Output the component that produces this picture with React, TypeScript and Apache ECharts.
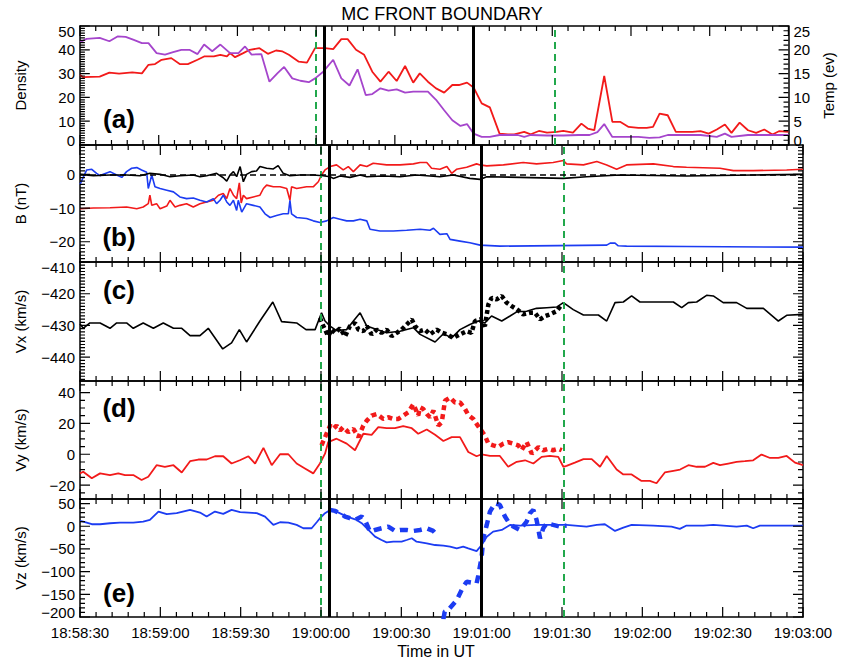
import React, { useEffect, useRef } from "react";
import * as echarts from "echarts";

// ---- time axis: seconds after 18:58:30 UT ----
const START_SEC = 18 * 3600 + 58 * 60 + 30;
const X_MIN = 0;
const X_MAX = 270;

// ---- event boundaries (seconds after 18:58:30) ----
const greenBoundaries = [89.8, 180.8];
const blackBoundaries = [93.0, 150.0];

// ---- panel (a): density (left) and temperature (right) ----
const densityRed = [
  [0, 29.4], [1.2, 28.5], [7.5, 28.7], [11.2, 30.4], [14.9, 30.0], [19.9, 30.5], [23.6, 30.1], [26.1, 33.7],
  [28.6, 34.0], [31.1, 35.8], [34.8, 36.5], [38.0, 34.0], [41.1, 34.0], [44.8, 35.8], [47.3, 37.2], [51.0, 37.2],
  [53.5, 37.9], [56.0, 37.2], [57.2, 38.6], [59.1, 36.9], [62.2, 38.6], [64.7, 40.0], [68.4, 40.7], [71.6, 38.3],
  [74.7, 39.7], [77.2, 39.3], [79.6, 37.9], [83.4, 35.0], [86.5, 34.6], [89.6, 40.7], [93.4, 40.7], [96.5, 40.3],
  [99.6, 44.5], [102.0, 44.5], [105.2, 40.0], [108.3, 37.9], [111.4, 30.8], [114.5, 26.6], [117.6, 30.8], [120.7, 26.9],
  [123.9, 33.2], [127.0, 26.2], [129.5, 30.1], [132.6, 26.6], [135.7, 23.8], [138.8, 22.0], [141.9, 25.2], [144.4, 25.2],
  [147.5, 26.2], [150.0, 24.2], [153.1, 17.5], [156.2, 15.8], [159.9, 4.8], [163.1, 4.5], [165.5, 4.5], [169.3, 5.5],
  [171.8, 4.5], [174.9, 5.9], [178.0, 5.2], [181.7, 5.5], [184.2, 5.9], [187.9, 5.2], [191.1, 9.0], [193.5, 6.9],
  [196.0, 6.2], [199.8, 29.0], [202.9, 9.7], [206.0, 9.7], [209.1, 7.6], [212.8, 7.2], [216.0, 7.2], [218.4, 7.6],
  [220.9, 13.2], [224.0, 12.5], [227.1, 5.5], [230.3, 5.5], [233.4, 5.5], [236.5, 5.8], [239.6, 4.8], [242.7, 6.5],
  [245.8, 8.6], [248.3, 5.1], [251.4, 9.4], [254.6, 6.2], [257.7, 5.1], [260.8, 6.5], [263.9, 4.4], [266.4, 5.8],
  [270.0, 5.5],
];
const tempPurple = [
  [0, 21.6], [2.5, 22.3], [7.5, 22.5], [11.2, 21.8], [14.3, 22.8], [17.4, 22.7], [20.5, 22.1], [23.6, 21.4],
  [26.1, 21.4], [29.2, 19.3], [32.4, 19.0], [35.5, 19.5], [38.6, 20.0], [41.7, 20.0], [44.8, 19.1], [47.3, 21.1],
  [50.4, 19.7], [53.5, 21.1], [57.2, 19.3], [60.4, 19.3], [62.9, 20.7], [65.4, 19.0], [69.1, 19.1], [72.2, 13.3],
  [75.3, 15.1], [77.8, 16.4], [80.9, 14.0], [84.0, 13.5], [87.2, 13.2], [89.6, 14.0], [92.7, 15.4], [96.5, 17.9],
  [99.6, 14.0], [102.7, 12.5], [105.8, 15.9], [108.9, 10.5], [111.4, 10.7], [114.5, 11.9], [117.6, 11.4], [120.7, 11.7],
  [123.9, 11.0], [127.0, 11.2], [132.6, 11.2], [135.7, 9.5], [138.8, 7.3], [141.9, 5.2], [145.0, 4.0], [147.5, 4.4],
  [150.0, 2.4], [153.1, 1.7], [156.2, 1.7], [159.9, 2.1], [163.1, 2.1], [166.8, 2.1], [169.3, 1.7], [171.8, 2.1],
  [178.0, 2.0], [184.2, 2.0], [190.0, 2.1], [194.2, 2.1], [197.2, 2.7], [199.8, 4.4], [202.9, 1.7], [206.0, 1.7],
  [212.8, 1.7], [217.0, 1.5], [220.9, 1.6], [224.0, 2.1], [230.3, 2.1], [236.5, 2.1], [242.7, 1.7], [245.8, 2.4],
  [248.3, 1.7], [254.6, 2.1], [270.0, 2.1],
];

// ---- panel (b): magnetic field components (nT) ----
const bRed = [
  [0, -10.2], [5.0, -10.0], [11.2, -9.9], [17.4, -9.7], [21.2, -10.2], [23.6, -9.7], [25.5, -8.7], [26.1, -6.2],
  [26.8, -9.2], [28.6, -8.7], [29.9, -10.2], [32.4, -9.4], [33.6, -7.7], [35.5, -9.7], [37.3, -9.2], [39.8, -8.7],
  [42.3, -9.7], [44.8, -8.7], [47.3, -8.2], [49.8, -7.7], [51.7, -6.2], [53.5, -5.7], [54.8, -7.2], [56.0, -4.2],
  [57.3, -6.2], [58.5, -7.2], [59.5, -2.5], [60.2, -8.5], [61.0, -6.2], [62.2, -7.2], [64.7, -6.7], [67.2, -6.2],
  [68.5, -4.2], [69.7, -3.2], [72.2, -3.7], [74.7, -3.7], [77.2, -4.2], [78.4, -7.7], [79.0, -3.7], [80.9, -4.2],
  [84.6, -3.7], [87.1, -3.7], [89.0, -2.2], [90.2, -0.2], [91.5, 1.3], [93.4, 2.3], [95.8, 2.8], [98.3, 1.3],
  [100.2, 2.3], [102.1, 0.8], [104.6, 2.8], [107.1, 2.3], [109.5, 3.3], [114.5, 2.8], [119.5, 2.8], [124.5, 3.1],
  [127.0, 3.5], [129.5, 3.5], [131.3, 1.8], [134.4, 1.5], [137.0, 2.3], [138.8, 0.3], [140.6, 1.5], [144.4, 2.1],
  [148.1, 3.1], [149.4, 2.8], [151.9, 2.5], [158.1, 2.8], [165.5, 3.5], [170.5, 3.1], [176.7, 3.5], [180.5, 4.1],
  [181.7, 3.1], [188.0, 2.8], [193.0, 3.8], [196.7, 2.8], [200.4, 1.5], [204.1, 2.8], [214.1, 3.1], [221.6, 2.3],
  [226.5, 2.1], [239.0, 1.8], [244.0, 1.1], [251.4, 1.1], [263.9, 1.3], [270.0, 1.5],
];
const bBlue = [
  [0, -3.0], [2.5, 1.3], [4.4, 1.5], [6.2, 0.3], [7.5, -0.4], [8.7, 0.0], [11.2, 0.8], [13.7, -0.2],
  [15.6, -0.9], [17.4, 0.8], [19.3, 1.8], [21.2, 2.0], [23.0, 1.3], [24.9, 0.6], [25.5, -4.2], [26.8, -0.2],
  [28.0, -3.7], [29.9, -4.2], [32.4, -4.7], [34.9, -5.2], [37.3, -6.7], [39.8, -7.2], [42.3, -7.0], [44.8, -7.7],
  [47.3, -8.2], [49.8, -7.2], [51.0, -8.7], [52.3, -7.7], [53.5, -6.2], [54.8, -8.2], [56.0, -9.2], [57.3, -7.7],
  [58.5, -10.7], [59.1, -7.7], [60.4, -11.2], [62.2, -8.7], [64.7, -9.2], [67.2, -9.7], [69.1, -11.7], [71.0, -12.8],
  [73.4, -12.2], [75.9, -11.7], [77.8, -11.7], [78.4, -7.7], [79.0, -11.7], [80.9, -12.8], [84.6, -13.1], [87.1, -13.8],
  [89.6, -14.3], [92.1, -13.8], [94.6, -12.8], [97.1, -13.3], [99.6, -13.8], [102.1, -13.8], [104.6, -13.3], [107.1, -13.8],
  [108.3, -16.3], [112.0, -16.8], [117.0, -16.8], [122.0, -16.6], [127.0, -16.3], [130.7, -16.6], [132.0, -16.0], [134.4, -17.8],
  [137.0, -17.6], [138.2, -19.3], [141.9, -19.8], [145.6, -20.3], [149.4, -21.0], [156.8, -21.3], [196.7, -21.0], [198.0, -20.4],
  [199.8, -20.4], [201.0, -21.2], [204.1, -21.3], [226.5, -21.4], [270.0, -21.6],
];
const bBlack = [
  [0, 0.0], [5.0, -0.4], [11.2, -0.2], [17.4, -0.2], [22.4, -0.4], [26.1, 0.3], [29.9, 0.0], [33.6, -0.7],
  [37.3, -0.4], [42.3, -0.2], [44.8, -0.7], [47.3, -0.4], [51.0, 0.3], [53.5, -1.0], [54.8, -2.0], [56.0, -0.2],
  [57.3, 0.8], [58.5, -0.7], [59.8, 2.3], [61.0, -2.2], [62.2, 0.0], [64.1, 0.8], [65.9, 1.0], [67.2, 2.3],
  [69.7, 1.8], [72.2, 1.6], [74.0, 2.6], [75.9, 0.3], [78.4, -0.4], [82.1, -0.2], [87.1, -0.2], [90.8, -0.4],
  [93.4, -0.7], [94.6, -1.2], [97.1, -0.5], [100.8, -0.9], [104.6, -0.2], [107.1, -0.7], [113.3, -0.5], [119.5, -0.7],
  [125.7, -0.2], [130.7, -0.5], [134.4, -0.7], [139.4, -0.2], [145.6, -1.2], [149.4, -1.5], [151.9, -0.7], [164.3, -0.9],
  [180.5, -1.2], [189.2, -0.7], [201.6, -0.2], [226.5, -0.5], [251.4, -0.2], [270.0, 0.0],
];

// ---- panel (c): Vx (km/s), solid = plasma moments, dotted = high-resolution ----
const vxSolid = [
  [0, -429.5], [1.2, -430.9], [3.7, -429.2], [7.5, -429.2], [11.2, -430.9], [13.7, -429.2], [17.4, -429.2], [19.9, -430.9],
  [23.6, -429.2], [27.4, -430.9], [31.1, -429.2], [34.9, -430.9], [38.0, -430.9], [41.1, -433.2], [44.8, -433.2], [47.9, -430.9],
  [53.3, -437.4], [56.6, -435.5], [59.5, -431.3], [62.2, -435.2], [67.2, -428.6], [72.0, -422.6], [75.3, -428.8], [80.9, -429.2],
  [84.4, -431.3], [87.8, -431.3], [90.2, -426.0], [91.5, -428.6], [93.4, -430.2], [95.8, -431.6], [99.6, -431.3], [102.1, -428.6],
  [104.6, -426.0], [107.1, -430.2], [110.8, -431.3], [114.5, -432.3], [119.5, -431.8], [124.5, -430.7], [127.0, -432.8], [132.6, -435.2],
  [135.7, -432.6], [138.8, -433.9], [141.9, -431.3], [145.6, -429.7], [148.7, -428.6], [151.2, -429.2], [153.7, -427.0], [157.5, -428.6],
  [160.6, -427.0], [163.1, -425.7], [166.8, -425.5], [170.5, -424.6], [174.3, -424.4], [178.0, -424.2], [180.5, -422.8], [184.2, -425.0],
  [188.0, -426.7], [193.6, -426.7], [196.7, -428.6], [199.8, -422.8], [202.9, -422.6], [206.0, -420.7], [209.1, -422.6], [214.1, -422.6],
  [221.6, -422.6], [224.7, -424.4], [227.2, -422.8], [230.3, -422.6], [234.0, -420.5], [236.5, -420.7], [240.2, -422.8], [245.2, -422.8],
  [249.0, -424.6], [255.2, -424.6], [260.8, -428.6], [263.9, -426.8], [270.0, -426.5],
];
const vxDotted = [
  [89.6, -427.6], [90.9, -430.2], [92.7, -433.4], [94.0, -431.3], [95.2, -432.3], [97.1, -430.9], [99.0, -433.4], [100.8, -430.2],
  [102.7, -429.2], [104.0, -431.3], [105.8, -431.8], [107.1, -430.2], [108.9, -432.8], [110.8, -431.3], [112.6, -432.3], [114.5, -431.3],
  [116.4, -433.4], [118.3, -432.3], [120.1, -431.3], [122.0, -429.7], [123.9, -428.1], [125.1, -430.2], [127.0, -431.8], [128.8, -431.3],
  [130.7, -432.8], [133.2, -431.3], [135.1, -432.3], [137.0, -432.8], [139.4, -433.9], [141.9, -432.8], [144.4, -431.8], [146.2, -432.3],
  [147.5, -428.6], [149.4, -428.1], [151.2, -430.2], [152.5, -423.4], [153.7, -421.3], [155.6, -421.8], [157.5, -420.7], [159.3, -422.8],
  [161.2, -423.9], [163.1, -424.9], [165.5, -426.5], [168.0, -426.0], [169.9, -426.0], [171.8, -428.1], [173.6, -427.1], [175.5, -426.5],
  [178.0, -425.5], [179.9, -423.4],
];

// ---- panel (d): Vy (km/s) ----
const vySolid = [
  [0, -12.4], [1.2, -11.3], [4.4, -15.6], [7.5, -12.4], [11.2, -13.5], [14.3, -12.4], [16.8, -13.5], [19.9, -13.5],
  [23.0, -16.7], [25.5, -14.6], [28.6, -7.1], [31.7, -8.1], [34.9, -7.1], [38.0, -11.8], [41.1, -4.5], [44.2, -3.4],
  [47.3, -3.4], [50.4, -1.3], [53.5, -1.3], [56.6, -6.0], [59.7, -3.9], [62.9, -1.3], [65.4, -6.0], [68.5, 4.1],
  [71.6, -7.1], [74.7, 0.0], [77.8, 0.0], [80.9, -6.0], [84.0, -9.2], [87.1, -12.4], [89.6, -6.0], [91.5, 0.4],
  [92.7, 7.9], [95.8, 10.1], [99.6, 6.9], [102.7, 2.6], [105.8, 13.3], [108.9, 12.6], [111.4, 17.6], [114.5, 16.9],
  [117.6, 16.9], [120.7, 18.2], [123.9, 16.9], [126.3, 13.3], [129.5, 16.1], [132.6, 12.6], [135.7, 8.6], [138.8, 11.1],
  [141.9, 11.1], [145.0, 1.5], [148.1, -1.3], [150.0, 0.0], [153.1, -1.1], [156.8, -1.1], [159.9, -8.1], [163.1, -4.9],
  [166.2, -3.9], [169.3, -6.0], [172.4, -1.7], [175.5, -1.1], [178.6, -1.7], [180.5, -8.1], [181.7, -7.5], [184.8, -5.4],
  [188.0, -3.2], [191.1, -3.2], [194.2, -8.1], [196.7, -1.1], [200.4, -9.9], [202.9, -13.1], [206.0, -13.1], [209.7, -17.3],
  [212.8, -17.3], [215.3, -18.8], [218.4, -11.8], [221.6, -10.7], [224.1, -9.9], [227.2, -7.1], [230.3, -8.1], [233.4, -8.1],
  [236.5, -5.6], [239.0, -7.1], [242.1, -6.0], [245.2, -4.9], [248.3, -4.5], [251.4, -3.9], [254.5, -0.2], [257.7, -2.4],
  [260.8, -2.4], [263.9, -1.1], [267.0, -5.4], [270.0, -7.1],
];
const vyDotted = [
  [90.2, 5.8], [91.5, 11.1], [93.4, 18.6], [94.6, 16.5], [95.8, 18.6], [97.1, 15.4], [98.3, 17.6], [100.2, 14.3],
  [102.1, 16.5], [104.0, 11.1], [105.8, 18.6], [107.1, 21.8], [108.9, 25.1], [110.8, 26.1], [113.3, 22.9], [115.1, 24.0],
  [117.0, 22.9], [118.9, 22.9], [120.7, 25.1], [122.6, 27.2], [124.5, 32.5], [126.3, 25.1], [127.0, 30.4], [128.2, 29.3],
  [129.5, 26.1], [130.7, 24.0], [132.0, 28.3], [133.8, 18.6], [135.1, 20.8], [136.3, 34.7], [138.2, 36.8], [140.0, 33.6],
  [141.9, 33.6], [143.8, 29.3], [145.0, 25.5], [146.9, 22.9], [148.1, 19.7], [149.4, 16.5], [151.2, 12.2], [152.5, 6.9],
  [154.3, 5.8], [156.2, 4.7], [158.1, 6.9], [159.9, 7.9], [161.8, 6.9], [163.7, 5.8], [164.9, 2.6], [166.8, 7.9],
  [168.7, 0.4], [171.2, 4.7], [173.0, 2.6], [174.9, 3.6], [176.7, 2.6], [178.6, 3.6], [179.9, 2.6],
];

// ---- panel (e): Vz (km/s) ----
const vzSolid = [
  [0, 11.8], [1.2, 10.3], [4.4, 4.4], [7.5, 4.4], [11.2, 6.6], [14.9, 8.1], [19.9, 8.1], [23.6, 10.3],
  [26.1, 14.0], [29.3, 32.4], [32.4, 26.5], [36.1, 28.7], [41.1, 36.0], [44.8, 30.1], [47.3, 21.3], [50.4, 32.4],
  [53.5, 27.2], [56.6, 36.0], [59.8, 30.9], [62.9, 30.1], [66.0, 28.7], [69.1, 21.3], [72.2, 2.9], [74.7, 8.8],
  [77.8, 8.1], [80.9, 2.9], [83.4, -4.4], [86.5, -4.4], [88.4, 8.8], [89.6, 17.6], [91.5, 28.7], [93.4, 36.0],
  [95.8, 32.3], [98.3, 25.0], [100.8, 19.1], [103.3, 13.9], [105.2, 6.6], [107.7, -8.2], [110.2, -23.0], [112.6, -30.3],
  [114.5, -35.5], [117.0, -34.0], [120.1, -34.0], [122.0, -30.3], [123.9, -26.5], [125.7, -34.0], [129.5, -37.7], [132.6, -41.4],
  [135.7, -42.9], [138.2, -45.1], [140.7, -48.8], [143.1, -45.1], [145.0, -48.8], [148.1, -54.7], [150.0, -41.4], [151.9, -23.0],
  [154.3, -11.9], [157.5, -8.2], [160.6, 2.9], [164.3, 1.5], [170.5, 2.9], [176.7, 2.9], [181.7, 2.9], [189.2, -0.7],
  [193.0, 2.9], [196.0, 4.4], [199.8, -10.3], [202.9, -2.9], [206.0, 2.9], [214.1, 1.5], [220.9, -0.7], [224.0, -5.9],
  [226.5, 1.5], [232.8, 1.5], [236.5, 2.9], [245.2, -0.7], [249.0, 1.5], [251.4, -4.4], [253.9, 1.5], [263.9, 1.5],
  [270.0, 1.5],
];
// null marks a data gap in the high-resolution Vz record
const vzDashed = [
  [93.4, 36.0], [95.2, 33.8], [97.1, 28.6], [99.0, 21.3], [100.8, 17.6], [102.7, 13.9], [105.2, 21.3], [106.4, 13.9],
  [108.3, -11.9], [110.2, -8.2], [112.6, -4.5], [115.1, -0.8], [117.6, -10.4], [119.5, -8.2], [122.0, -8.2], [124.5, -10.4],
  [127.0, -8.2], [129.5, -4.5], [131.9, -10.4], [133.8, -23.0], [135.0, null], [135.7, -205.0], [136.2, -188.0], [137.5, -184.7], [140.7, -162.6],
  [143.1, -133.2], [144.4, -122.2], [148.1, -125.9], [148.7, -110.0], [150.0, -67.0], [150.6, -26.5], [151.9, 2.9], [153.1, 32.3],
  [155.0, 50.7], [156.8, 47.0], [158.7, 21.3], [159.9, 10.3], [161.8, -0.8], [164.3, -8.2], [166.8, 10.3], [168.0, 28.6],
  [169.3, 36.0], [170.5, 13.9], [171.8, -26.5], [173.0, -4.5], [174.3, 6.6], [176.7, 2.9], [179.2, -0.8], [181.7, 1.4],
];

// ---- axis labels ----
const panelTags = ["(a)", "(b)", "(c)", "(d)", "(e)"];
const yNames = ["Density", "B (nT)", "Vx (km/s)", "Vy (km/s)", "Vz (km/s)"];
const yMins = [0, -26, -447.5, -29, -200];
const yMaxs = [50, 8.7, -410, 47.5, 60];
const yLabelValues = [
  [0, 10, 20, 30, 40, 50],
  [-20, -10, 0],
  [-440, -430, -420, -410],
  [-20, 0, 20, 40],
  [-200, -150, -100, -50, 0, 50],
];
const yMinorStep = [1, 1, 1, 5, 10];
const tempMin = 0;
const tempMax = 25;
const tempLabelValues = [0, 5, 10, 15, 20, 25];

// ---- styling ----
const FONT = "'Liberation Sans', Arial, Helvetica, sans-serif";
const RED = "#f21a1a";
const PURPLE = "#a545cc";
const BLUE = "#1c3cf2";
const BLACK = "#000000";
const GREEN = "#22a84c";

const GRID_LEFT = 80;
const GRID_RIGHT = 41;
const CHART_W = 844;
const gridTops = [26, 145, 262, 381, 499];
const gridHeights = [119, 117, 119, 118, 118];
const tagY = [119, 237, 290, 408, 593];
const MAJOR_LEN = 10;
const MINOR_LEN = 5;

function stepValues(a: number, b: number, step: number) {
  const out: number[] = [];
  const start = Math.ceil(a / step) * step;
  for (let v = start; v <= b + 1e-9; v += step) out.push(Math.round(v * 1000) / 1000);
  return out;
}

function fmtNum(v: number) {
  return v < 0 ? "\u2212" + Math.abs(v) : String(v);
}

function fmtTime(v: number) {
  const t = START_SEC + Math.round(v);
  const h = Math.floor(t / 3600);
  const m = Math.floor((t % 3600) / 60);
  const s = t % 60;
  const p = (n: number) => (n < 10 ? "0" + n : String(n));
  return `${p(h)}:${p(m)}:${p(s)}`;
}

function makeXAxis(gi: number, pos: string, showLabels: boolean) {
  const ax: any = {
    type: "value",
    gridIndex: gi,
    position: pos,
    min: X_MIN,
    max: X_MAX,
    interval: 30,
    axisLine: { show: true, onZero: false, lineStyle: { color: "#000", width: 1.5 } },
    splitLine: { show: false },
    axisTick: { show: false },
  };
  ax.axisLabel = showLabels
    ? { show: true, formatter: fmtTime, fontFamily: FONT, fontSize: 15, color: "#000", margin: 8 }
    : { show: false };
  return ax;
}

// edge labels are nudged inward with rich-text padding, as in the reference
function makeYAxis(gi: number, side: string, min: number, max: number, labels: number[] | null, extra: any = {}) {
  let labelCfg: any = { show: false };
  if (labels) {
    labelCfg = {
      show: true,
      customValues: labels,
      fontFamily: FONT,
      fontSize: 15,
      color: "#000",
      margin: 5,
      formatter: (v: number) => {
        const s = fmtNum(v);
        if (Math.abs(v - max) < 1e-6) return "{top|" + s + "}";
        if (Math.abs(v - min) < 1e-6) return "{bot|" + s + "}";
        return s;
      },
      rich: {
        top: { fontFamily: FONT, fontSize: 15, color: "#000", padding: [10, 0, 0, 0] },
        bot: { fontFamily: FONT, fontSize: 15, color: "#000", padding: [0, 0, 10, 0] },
      },
    };
  }
  return {
    type: "value",
    gridIndex: gi,
    position: side,
    min,
    max,
    axisLine: { show: true, onZero: false, lineStyle: { color: "#000", width: 1.5 } },
    splitLine: { show: false },
    axisTick: { show: false },
    axisLabel: labelCfg,
    ...extra,
  };
}

// inward frame ticks drawn as short segments of a line series, in data units of the panel's scales
function xTickData(gi: number) {
  const lo = yMins[gi];
  const hi = yMaxs[gi];
  const perPx = (hi - lo) / gridHeights[gi];
  const out: any[] = [];
  stepValues(X_MIN, X_MAX, 6).forEach((t) => {
    const len = (t % 30 === 0 ? MAJOR_LEN : MINOR_LEN) * perPx;
    out.push([t, lo], [t, lo + len], [t, null], [t, hi], [t, hi - len], [t, null]);
  });
  return out;
}

function yTickData(gi: number, lo: number, hi: number, majors: number[], step: number, left: boolean, right: boolean) {
  const perPx = (X_MAX - X_MIN) / (CHART_W - GRID_LEFT - GRID_RIGHT);
  const out: any[] = [];
  stepValues(lo, hi, step).forEach((v) => {
    const len = (majors.indexOf(v) >= 0 ? MAJOR_LEN : MINOR_LEN) * perPx;
    if (left) out.push([X_MIN, v], [X_MIN + len, v], [X_MIN, null]);
    if (right) out.push([X_MAX, v], [X_MAX - len, v], [X_MAX, null]);
  });
  return out;
}

function tickSeries(data: any[], gi: number, yi: number) {
  return {
    type: "line",
    xAxisIndex: gi * 2,
    yAxisIndex: yi,
    data,
    symbol: "none",
    showSymbol: false,
    connectNulls: false,
    silent: true,
    clip: false,
    z: 6,
    lineStyle: { color: "#000", width: 1.2, type: "solid" },
  };
}

function boundaryMarks(extra: any[] = []) {
  return {
    symbol: ["none", "none"],
    silent: true,
    label: { show: false },
    data: [
      ...greenBoundaries.map((v) => ({ xAxis: v, lineStyle: { color: GREEN, width: 2, type: [7, 5] } })),
      ...blackBoundaries.map((v) => ({ xAxis: v, lineStyle: { color: BLACK, width: 3, type: "solid" } })),
      ...extra,
    ],
  };
}

function lineSeries(name: string, data: any[], gi: number, yi: number, color: string, width: number, type: any, marks?: any) {
  const s: any = {
    name,
    type: "line",
    xAxisIndex: gi * 2,
    yAxisIndex: yi,
    data,
    symbol: "none",
    showSymbol: false,
    connectNulls: false,
    silent: true,
    lineStyle: { color, width, type },
  };
  if (marks) s.markLine = marks;
  return s;
}

export default function App() {
  const ref = useRef<HTMLDivElement>(null);

  useEffect(() => {
    if (!ref.current) return;
    const chart = echarts.init(ref.current, null, { renderer: "svg" });

    const grid = gridTops.map((top, i) => ({ left: GRID_LEFT, right: GRID_RIGHT, top, height: gridHeights[i] }));

    const xAxis: any[] = [];
    for (let i = 0; i < 5; i++) {
      xAxis.push(makeXAxis(i, "bottom", i === 4));
      xAxis.push(makeXAxis(i, "top", false));
    }

    // y axes: index 2*i = left (labelled), 2*i+1 = right (temperature scale for panel a)
    const yAxis: any[] = [];
    for (let i = 0; i < 5; i++) {
      yAxis.push(
        makeYAxis(i, "left", yMins[i], yMaxs[i], yLabelValues[i], {
          name: yNames[i],
          nameLocation: "middle",
          nameGap: 52,
          nameTextStyle: { fontFamily: FONT, fontSize: 15, color: "#000" },
        })
      );
      if (i === 0) {
        yAxis.push(
          makeYAxis(i, "right", tempMin, tempMax, tempLabelValues, {
            name: "Temp (ev)",
            nameLocation: "middle",
            nameGap: 24,
            nameRotate: 90,
            nameTextStyle: { fontFamily: FONT, fontSize: 15, color: "#000" },
          })
        );
      } else {
        yAxis.push(makeYAxis(i, "right", yMins[i], yMaxs[i], null));
      }
    }

    const series: any[] = [];
    for (let i = 0; i < 5; i++) {
      series.push(tickSeries(xTickData(i), i, i * 2));
      if (i === 0) {
        series.push(tickSeries(yTickData(0, yMins[0], yMaxs[0], yLabelValues[0], yMinorStep[0], true, false), 0, 0));
        series.push(tickSeries(yTickData(0, tempMin, tempMax, tempLabelValues, 1, false, true), 0, 1));
      } else {
        series.push(tickSeries(yTickData(i, yMins[i], yMaxs[i], yLabelValues[i], yMinorStep[i], true, true), i, i * 2));
      }
    }

    series.push(
      lineSeries("Density", densityRed, 0, 0, RED, 1.8, "solid", boundaryMarks()),
      lineSeries("Temp", tempPurple, 0, 1, PURPLE, 1.8, "solid"),

      lineSeries("B red", bRed, 1, 2, RED, 1.6, "solid",
        boundaryMarks([{ yAxis: 0, lineStyle: { color: BLACK, width: 1.5, type: [6, 4] } }])),
      lineSeries("B blue", bBlue, 1, 2, BLUE, 1.6, "solid"),
      lineSeries("B black", bBlack, 1, 2, BLACK, 1.6, "solid"),

      lineSeries("Vx", vxSolid, 2, 4, BLACK, 1.6, "solid", boundaryMarks()),
      lineSeries("Vx high-res", vxDotted, 2, 4, BLACK, 4.5, [4, 3]),

      lineSeries("Vy", vySolid, 3, 6, RED, 1.8, "solid", boundaryMarks()),
      lineSeries("Vy high-res", vyDotted, 3, 6, RED, 4.5, [5, 4]),

      lineSeries("Vz", vzSolid, 4, 8, BLUE, 1.8, "solid", boundaryMarks()),
      lineSeries("Vz high-res", vzDashed, 4, 8, BLUE, 4.5, [8, 6])
    );

    const graphic: any[] = [
      {
        type: "text", x: 442, y: 14,
        style: { text: "MC FRONT BOUNDARY", fontFamily: FONT, fontSize: 18, fill: "#000", textAlign: "center", textVerticalAlign: "middle" },
      },
      {
        type: "text", x: 436, y: 651,
        style: { text: "Time in UT", fontFamily: FONT, fontSize: 16, fill: "#000", textAlign: "center", textVerticalAlign: "middle" },
      },
      ...panelTags.map((t, i) => ({
        type: "text", x: 119, y: tagY[i],
        style: { text: t, fontFamily: FONT, fontSize: 26, fontWeight: "bold", fill: "#000", textAlign: "center", textVerticalAlign: "middle" },
      })),
    ];

    chart.setOption({ animation: false, grid, xAxis, yAxis, series, graphic });

    return () => chart.dispose();
  }, []);

  return (
    <div ref={ref} style={{ position: "fixed", left: 0, top: 0, width: 844, height: 664, background: "#fff" }} />
  );
}
